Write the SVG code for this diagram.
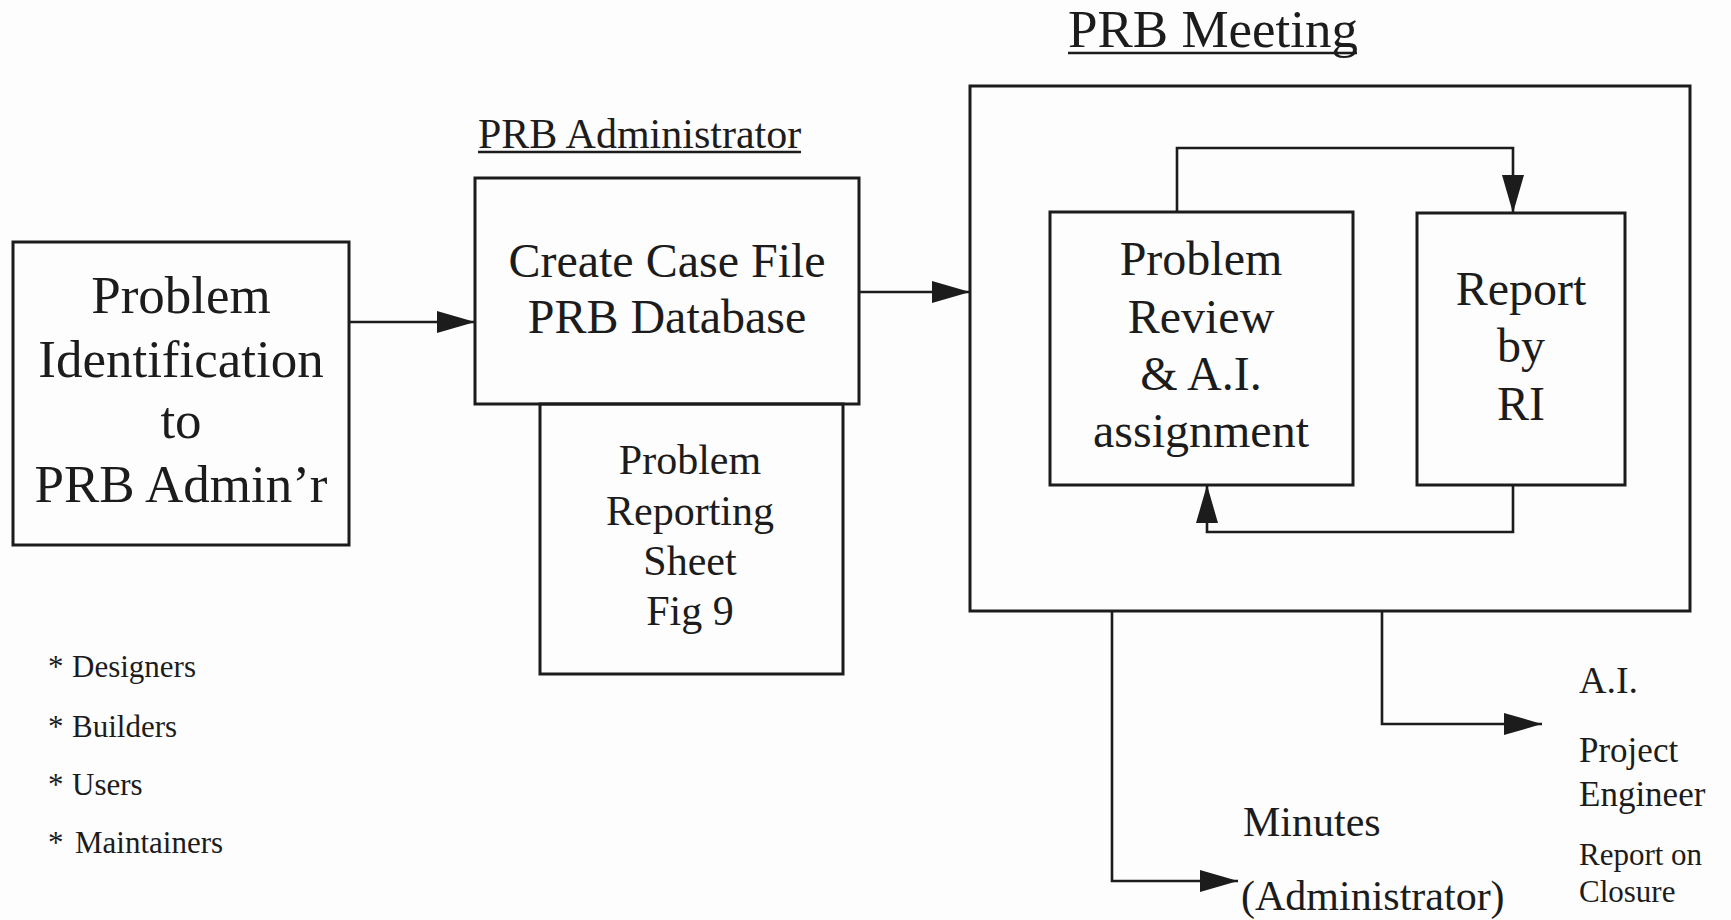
<svg xmlns="http://www.w3.org/2000/svg" width="1731" height="920" viewBox="0 0 1731 920">
  <defs>
    <marker id="arrow" markerUnits="userSpaceOnUse" markerWidth="38" markerHeight="22" refX="38" refY="11" orient="auto">
      <path d="M0,0 L38,11 L0,22 Z" fill="#1c1c1c"/>
    </marker>
    <style>
      .box { fill: none; stroke: #1c1c1c; stroke-width: 3; }
      .conn { fill: none; stroke: #1c1c1c; stroke-width: 2.6; }
      .ul { stroke: #1c1c1c; stroke-width: 2.4; }
      text { font-family: "Liberation Serif", "Times New Roman", serif; fill: #1c1c1c; }
      .c { text-anchor: middle; }
      .f53 { font-size: 53px; }
      .f48 { font-size: 48px; }
      .f42 { font-size: 42px; }
      .f38 { font-size: 38px; }
      .f35 { font-size: 35px; }
      .f31 { font-size: 31px; }
    </style>
  </defs>

  <rect width="1731" height="920" fill="#fdfdfd"/>

  <!-- section headings -->
  <g id="heading-admin">
    <text x="478" y="148" class="f42">PRB Administrator</text>
    <line x1="478" y1="152" x2="801" y2="152" class="ul"/>
  </g>
  <g id="heading-meeting">
    <text x="1068" y="47" class="f53">PRB Meeting</text>
    <line x1="1068" y1="53" x2="1357" y2="53" class="ul"/>
  </g>

  <!-- process boxes -->
  <g id="problem-identification">
    <rect x="13" y="242" width="336" height="303" class="box"/>
    <text class="c f53" x="181" y="313">Problem</text>
    <text class="c f53" x="181" y="377">Identification</text>
    <text class="c f53" x="181" y="438">to</text>
    <text class="c f53" x="181" y="502">PRB Admin’r</text>
  </g>

  <g id="create-case-file">
    <rect x="475" y="178" width="384" height="226" class="box"/>
    <text class="c f48" x="667" y="277">Create Case File</text>
    <text class="c f48" x="667" y="333">PRB Database</text>
  </g>

  <g id="reporting-sheet">
    <rect x="540" y="404" width="303" height="270" class="box"/>
    <text class="c f42" x="690" y="474">Problem</text>
    <text class="c f42" x="690" y="525">Reporting</text>
    <text class="c f42" x="690" y="575">Sheet</text>
    <text class="c f42" x="690" y="625">Fig 9</text>
  </g>

  <g id="prb-meeting">
    <rect x="970" y="86" width="720" height="525" class="box"/>
  </g>

  <g id="problem-review">
    <rect x="1050" y="212" width="303" height="273" class="box"/>
    <text class="c f48" x="1201" y="275">Problem</text>
    <text class="c f48" x="1201" y="333">Review</text>
    <text class="c f48" x="1201" y="390">&amp; A.I.</text>
    <text class="c f48" x="1201" y="447">assignment</text>
  </g>

  <g id="report-by-ri">
    <rect x="1417" y="213" width="208" height="272" class="box"/>
    <text class="c f48" x="1521" y="305">Report</text>
    <text class="c f48" x="1521" y="362">by</text>
    <text class="c f48" x="1521" y="420">RI</text>
  </g>

  <!-- sources list -->
  <g id="sources">
    <text class="f31" x="48" y="677">*<tspan x="72">Designers</tspan></text>
    <text class="f31" x="48" y="737">*<tspan x="72">Builders</tspan></text>
    <text class="f31" x="48" y="795">*<tspan x="72">Users</tspan></text>
    <text class="f31" x="48" y="853">*<tspan x="75">Maintainers</tspan></text>
  </g>

  <!-- meeting outputs -->
  <g id="minutes">
    <text class="f42" x="1243" y="836">Minutes</text>
    <text class="f42" x="1241" y="910">(Administrator)</text>
  </g>
  <g id="action-items">
    <text class="f38" x="1579" y="693">A.I.</text>
    <text class="f35" x="1579" y="762">Project</text>
    <text class="f35" x="1579" y="806">Engineer</text>
    <text class="f31" x="1579" y="865">Report on</text>
    <text class="f31" x="1579" y="902">Closure</text>
  </g>

  <!-- connectors -->
  <g id="connectors">
    <path class="conn" d="M349,322 H475" marker-end="url(#arrow)"/>
    <path class="conn" d="M859,292 H970" marker-end="url(#arrow)"/>
    <path class="conn" d="M1177,212 V148 H1513 V213" marker-end="url(#arrow)"/>
    <path class="conn" d="M1513,485 V532 H1207 V485" marker-end="url(#arrow)"/>
    <path class="conn" d="M1112,611 V881 H1238" marker-end="url(#arrow)"/>
    <path class="conn" d="M1382,611 V724 H1542" marker-end="url(#arrow)"/>
  </g>
</svg>
